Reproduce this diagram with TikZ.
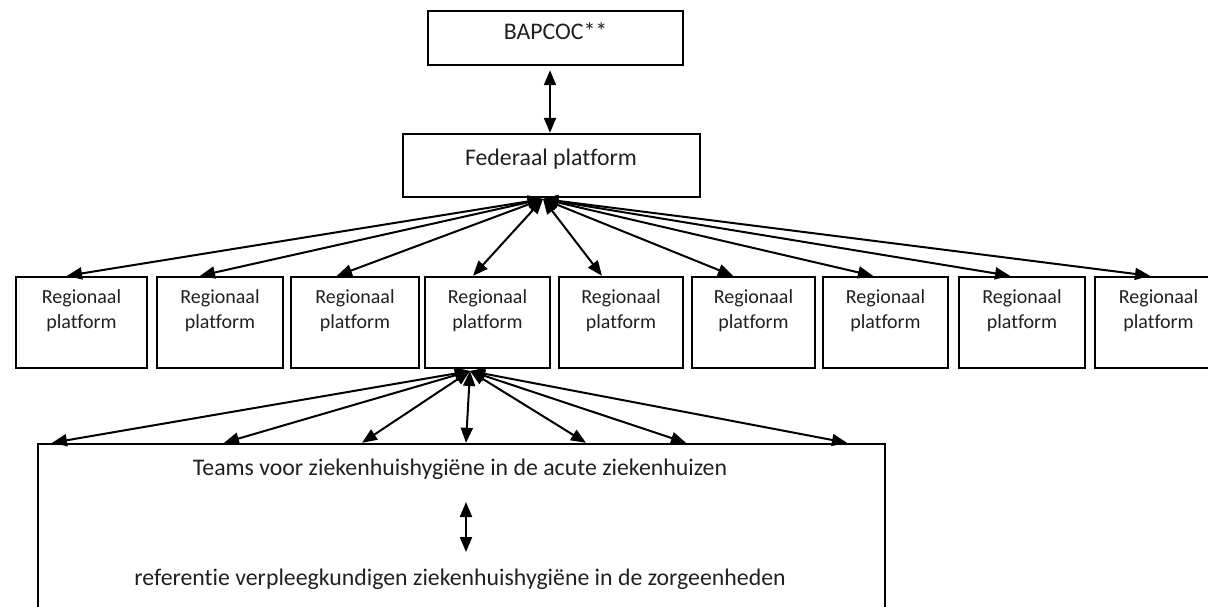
\documentclass[tikz,border=0pt]{standalone}
\usepackage{fontspec}
\setmainfont{Carlito}[Ligatures=NoCommon]
\usetikzlibrary{arrows.meta,calc}
\definecolor{txt}{HTML}{202020}
\tikzset{
  box/.style={draw=black,line width=2.4pt,inner sep=0pt,fill=none},
  lbl/.style={inner sep=0pt,anchor=base,text=txt},
  conn/.style={line width=2pt,{Triangle[length=15pt,width=12pt]}-{Triangle[length=15pt,width=12pt]}},
}
\begin{document}
\begin{tikzpicture}[x=1pt,y=-1pt]
\useasboundingbox (0,0) rectangle (1208,607);
\clip (0,0) rectangle (1208,607);
% top boxes
\node[box,minimum width=255pt,minimum height=54pt] (bap) at (555.5,38) {};
\node[lbl,font=\fontsize{23.8}{28}\selectfont] (baptxt) at (555.5,40) {BAPCOC**};
\node[box,minimum width=297pt,minimum height=63pt] (fed) at (551.5,165.5) {};
\node[lbl,font=\fontsize{23.8}{28}\selectfont] (fedtxt) at (551,165) {Federaal platform};
\draw[conn] (bap.south -| 550,0) ++(0,4) coordinate (bs) -- (fed.north -| 550,0) coordinate (fn);
% regional boxes
\foreach \i/\l/\r in {1/16/147,2/157/283,3/291/419,4/425/550,5/559/683,6/692/815,7/823/948,8/959/1085,9/1095/1222}{
  \pgfmathsetmacro{\w}{\r-\l}
  \pgfmathsetmacro{\c}{(\r+\l)/2}
  \node[box,minimum width=\w pt,minimum height=91pt] (r\i) at (\c,322.5) {};
  \node[lbl,font=\fontsize{20}{24}\selectfont] (ra\i) at (\c,303) {Regionaal};
  \node[lbl,font=\fontsize{20}{24}\selectfont] (rb\i) at (\c,328) {platform};
}
% fan from federal
\coordinate (fs) at (543,199);
\foreach \i/\x in {1/67,2/200,3/337,4/473,5/602,6/733,7/873,8/1010,9/1150}{
  \draw[conn] (fs) -- (r\i.north -| \x,0);
}
% bottom box
\node[box,minimum width=847pt,minimum height=180pt] (team) at (461.5,534) {};
\node[lbl,font=\fontsize{23.8}{28}\selectfont] (t1) at (460,475) {Teams voor ziekenhuishygiëne in de acute ziekenhuizen};
\node[lbl,font=\fontsize{23.8}{28}\selectfont] (t2) at (460,585) {referentie verpleegkundigen ziekenhuishygiëne in de zorgeenheden};
\coordinate (ta) at (466,502);
\coordinate (tb) at (466,552);
\draw[conn] (ta) -- (tb);
% fan from regional 4
\coordinate (rs) at (470,371);
\foreach \x in {52,224,362,466,586,686,847}{
  \draw[conn] (rs) -- (team.north -| \x,0);
}
\end{tikzpicture}
\end{document}
